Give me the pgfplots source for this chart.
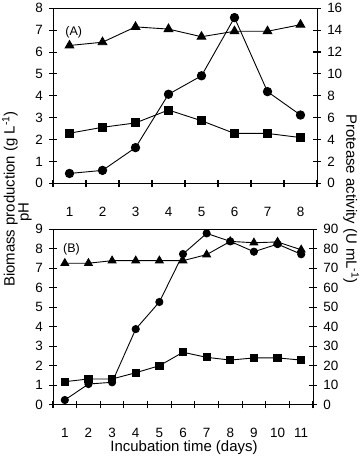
\documentclass[border=0pt]{standalone}
\usepackage{fontspec}
\setmainfont{Liberation Sans}
\usepackage{pgfplots}
\pgfplotsset{compat=1.18}
\begin{document}
\begin{tikzpicture}
\pgfplotsset{
  base/.style={scale only axis, anchor=south west, clip=false,
    tick align=center,
    /pgf/number format/assume math mode=true,
    tick label style={font=\fontsize{13.5}{15}\selectfont},
    axis line style={line width=0.9bp},
    every tick/.style={black, line width=1.1bp},
    major tick length=7.5bp},
  ser/.style={black, line width=0.9bp, mark options={solid}},
}
\path[use as bounding box] (0,0) rectangle (360bp,456bp);
% ---------- top panel ----------
\begin{axis}[base, at={(53bp,272.7bp)}, width=264bp, height=175bp,
  xmin=0.5, xmax=8.5, ymin=0, ymax=8, ytick={0,...,8}, ytick pos=left, xtick pos=bottom,
  xtick={0.5,1.5,...,8.5}, xticklabels={},
  extra x ticks={1,...,8}, extra x tick style={major tick length=0pt},
  xticklabel style={yshift=-20bp}, yticklabel style={xshift=-3bp}]
\addplot[ser, mark=triangle*, mark size=5bp] coordinates {(1,6.3)(2,6.45)(3,7.15)(4,7.05)(5,6.7)(6,6.95)(7,6.95)(8,7.25)};
\addplot[ser, mark=square*, mark size=4bp] coordinates {(1,2.29)(2,2.56)(3,2.76)(4,3.35)(5,2.86)(6,2.28)(7,2.28)(8,2.09)};
\node[font=\fontsize{12.5}{14}\selectfont] at (axis cs:1.13,6.9) {(A)};
\end{axis}
\begin{axis}[base, at={(53bp,272.7bp)}, width=264bp, height=175bp,
  xmin=0.5, xmax=8.5, ymin=0, ymax=16, ytick={0,2,...,16},
  axis x line=none, axis y line*=right, yticklabel style={xshift=3bp}]
\addplot[ser, mark=*, mark size=4.2bp] coordinates {(1,0.9)(2,1.18)(3,3.26)(4,8.14)(5,9.83)(6,15.15)(7,8.38)(8,6.24)};
\end{axis}
% ---------- bottom panel ----------
\begin{axis}[base, at={(53bp,51.3bp)}, width=260bp, height=175.4bp,
  xmin=0.5, xmax=11.5, ymin=0, ymax=9, ytick={0,...,9}, ytick pos=left, xtick pos=bottom,
  xtick={0.5,1.5,...,11.5}, xticklabels={},
  extra x ticks={1,...,11}, extra x tick style={major tick length=0pt},
  xticklabel style={yshift=-20bp}, yticklabel style={xshift=-3bp}]
\addplot[ser, mark=triangle*, mark size=4.5bp] coordinates {(1,7.26)(2,7.26)(3,7.39)(4,7.39)(5,7.39)(6,7.39)(7,7.7)(8,8.38)(9,8.31)(10,8.35)(11,7.95)};
\addplot[ser, mark=square*, mark size=3.6bp] coordinates {(1,1.18)(2,1.32)(3,1.32)(4,1.64)(5,2.0)(6,2.69)(7,2.43)(8,2.29)(9,2.4)(10,2.4)(11,2.29)};
\node[font=\fontsize{12.5}{14}\selectfont] at (axis cs:1.28,7.95) {(B)};
\end{axis}
\begin{axis}[base, at={(53bp,51.3bp)}, width=260bp, height=175.4bp,
  xmin=0.5, xmax=11.5, ymin=0, ymax=90, ytick={0,10,...,90},
  axis x line=none, axis y line*=right, yticklabel style={xshift=3bp}]
\addplot[ser, mark=*, mark size=3.6bp] coordinates {(1,2.4)(2,10.6)(3,11.5)(4,38.8)(5,52.7)(6,77.3)(7,87.9)(8,83.8)(9,78.5)(10,82.4)(11,77.2)};
\end{axis}
% ---------- titles ----------
\node[rotate=90, font=\fontsize{15}{18}\selectfont] at (10bp,257bp) {Biomass production (g L\textsuperscript{-1})};
\node[rotate=90, font=\fontsize{15}{18}\selectfont] at (25bp,244bp) {pH};
\node[rotate=-90, font=\fontsize{15}{18}\selectfont] at (351bp,257bp) {Protease activity (U mL\textsuperscript{-1})};
\node[font=\fontsize{15}{18}\selectfont] at (184bp,8bp) {Incubation time (days)};
\end{tikzpicture}
\end{document}
